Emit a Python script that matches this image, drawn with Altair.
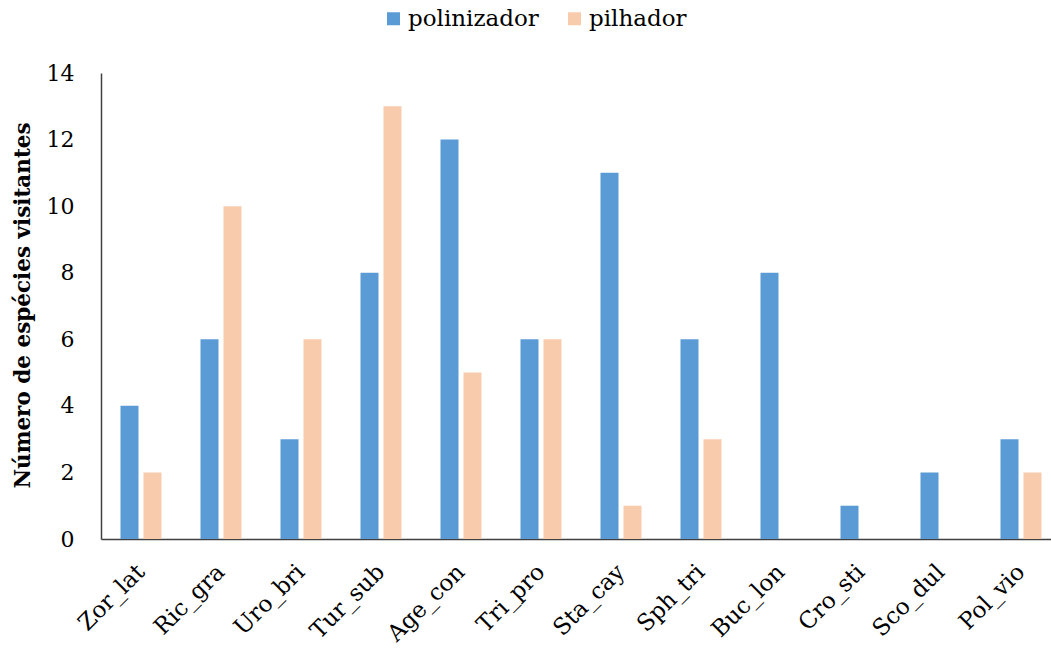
import altair as alt
import pandas as pd

# Species codes and number of visiting species per guild
species = ["Zor_lat", "Ric_gra", "Uro_bri", "Tur_sub", "Age_con", "Tri_pro",
           "Sta_cay", "Sph_tri", "Buc_lon", "Cro_sti", "Sco_dul", "Pol_vio"]
polinizador = [4, 6, 3, 8, 12, 6, 11, 6, 8, 1, 2, 3]
pilhador = [2, 10, 6, 13, 5, 6, 1, 3, 0, 0, 0, 2]
groups = ["polinizador", "pilhador"]
colors = ["#5B9BD5", "#F8CBAD"]
y_ticks = [0, 2, 4, 6, 8, 10, 12, 14]

rows = []
for s, a, b in zip(species, polinizador, pilhador):
    rows.append({"especie": s, "grupo": "polinizador", "n": a})
    rows.append({"especie": s, "grupo": "pilhador", "n": b})
df = pd.DataFrame(rows)

font = "DejaVu Serif"
axis_color = "#404040"

chart = alt.Chart(df).mark_bar().encode(
    x=alt.X(
        "especie:N", sort=species, title=None,
        scale=alt.Scale(range=[0, 960], paddingInner=0.4875, paddingOuter=0.24375),
        axis=alt.Axis(
            labelAngle=-45, labelAlign="right", labelBaseline="middle",
            labelFont=font, labelFontSize=23, labelColor="#000000",
            labelPadding=29, ticks=False, domainColor=axis_color, domainWidth=1.5,
        ),
    ),
    xOffset=alt.XOffset(
        "grupo:N", sort=groups,
        scale=alt.Scale(domain=groups, paddingInner=0.217, paddingOuter=0),
    ),
    y=alt.Y(
        "n:Q", title="Número de espécies visitantes",
        scale=alt.Scale(domain=[0, 14], nice=False),
        axis=alt.Axis(
            values=y_ticks, grid=False, ticks=False,
            labelFont=font, labelFontSize=22, labelColor="#000000", labelPadding=27,
            domainColor=axis_color, domainWidth=1.5,
            titleFont=font, titleFontSize=21.5, titleFontWeight="bold", titleColor="#000000",
            titleAngle=-90, titleX=-78, titleY=232, titleAlign="center", titleBaseline="middle",
        ),
    ),
    color=alt.Color(
        "grupo:N", sort=groups, title=None,
        scale=alt.Scale(domain=groups, range=colors),
        legend=alt.Legend(
            orient="none", direction="horizontal", legendX=281, legendY=-66,
            symbolType="square", symbolSize=169, symbolStrokeWidth=0,
            labelFont=font, labelFontSize=23, labelColor="#000000",
            labelOffset=3, columnPadding=24, padding=0,
        ),
    ),
).properties(
    width=950,
    height=466,
    autosize=alt.AutoSizeParams(type="none"),
    padding={"left": 101, "top": 73, "right": 0, "bottom": 111},
).configure_view(stroke=None)

chart.save("out.html", embed_options={"renderer": "svg", "actions": False})
